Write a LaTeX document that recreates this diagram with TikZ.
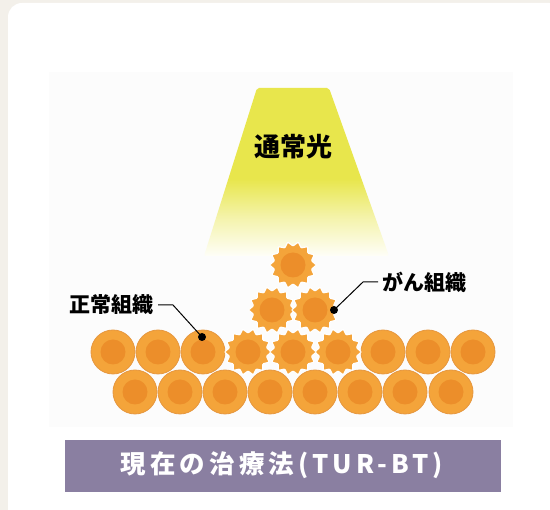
\documentclass[tikz,border=0pt]{standalone}
\usepackage{fontspec}
\newfontfamily\jp{Noto Sans CJK JP}
\newfontfamily\jpwide[LetterSpace=16]{Noto Sans CJK JP}
\usetikzlibrary{calc}

\definecolor{pagebg}{HTML}{F3F0EA}
\definecolor{areabg}{HTML}{FCFCFC}
\definecolor{beamY}{HTML}{E8E64C}
\definecolor{cellfill}{HTML}{F4A43A}
\definecolor{celledge}{HTML}{E6973F}
\definecolor{nucleus}{HTML}{EC8E2A}
\definecolor{banner}{HTML}{8A7FA1}

\pgfdeclareverticalshading{beamshade}{100bp}{%
  color(0bp)=(white); color(25bp)=(beamY!4!white);
  color(36bp)=(beamY!45!white); color(48bp)=(beamY); color(100bp)=(beamY)}

\tikzset{
  normalcell/.style={circle, minimum size=44pt, inner sep=0pt,
    fill=cellfill, draw=celledge, line width=0.8pt,
    path picture={\fill[nucleus] (path picture bounding box.center) circle (12.5pt);}},
  gear/.pic={
    \fill[cellfill, draw=white, line width=1.2pt, rounded corners=0.8pt]
      (0:23.5) \foreach \i in {1,...,27}{ -- ({\i*360/28}:{mod(\i,2)==0 ? 23.5 : 19}) } -- cycle;
    \fill[nucleus] (0,0) circle (12.5pt);
    \coordinate (-c) at (0,0);
  },
  tag/.style={font=\jp\bfseries\fontsize{21}{21}\selectfont, text=black, inner sep=1pt},
  leader/.style={line width=1pt, black},
  dot/.style={fill=black}
}

\begin{document}
\begin{tikzpicture}[x=1pt, y=-1pt]
  \useasboundingbox (0,0) rectangle (550,510);
  % page and panel
  \fill[pagebg] (0,0) rectangle (550,510);
  \fill[white, rounded corners=14pt] (8,3) rectangle (563,530);
  \fill[areabg] (49,72) rectangle (513,427);

  % ordinary light beam
  \shade[shading=beamshade, rounded corners=2pt]
    (257,88) -- (329,88) -- (389,256) -- (204,256) -- cycle;
  \node[font=\jp\bfseries\fontsize{26}{26}\selectfont] (light) at (293,147) {通常光};

  % lower row of normal cells
  \foreach \k [count=\n] in {135,180,225,270,315,360,405,451}
    \node[normalcell] (b\n) at (\k,392) {};
  % upper row: normal cells at both ends
  \foreach \k [count=\n] in {113,158,203}
    \node[normalcell] (u\n) at (\k,352) {};
  \foreach \k [count=\n] in {383,428,473}
    \node[normalcell] (v\n) at (\k,352) {};

  % cancer cells heaped up in the middle
  \pic (g1) at (248,352) {gear};
  \pic (g3) at (338,352) {gear};
  \pic (g2) at (293,352) {gear};
  \pic (g4) at (272,310) {gear};
  \pic (g5) at (315,310) {gear};
  \pic (g6) at (293,265) {gear};

  % labels with leader lines
  \node[tag, anchor=east] (normal) at (155,305) {正常組織};
  \coordinate (ndot) at (202,337);
  \draw[leader] (normal.east) ++(3,0) -- ++(15,0) -- (ndot);
  \fill[dot] (ndot) circle (4pt);

  \node[tag, anchor=west] (cancer) at (381,282) {がん組織};
  \coordinate (cdot) at (334,310);
  \draw[leader] (cancer.west) ++(-3,0) -- ++(-15,0) -- (cdot);
  \fill[dot] (cdot) circle (4pt);

  % caption bar
  \fill[banner] (65,440) rectangle (501,492);
  \node[font=\jpwide\bfseries\fontsize{25.5}{25.5}\selectfont, text=white] (caption) at (282,465) {現在の治療法(TUR-BT)};
\end{tikzpicture}
\end{document}
